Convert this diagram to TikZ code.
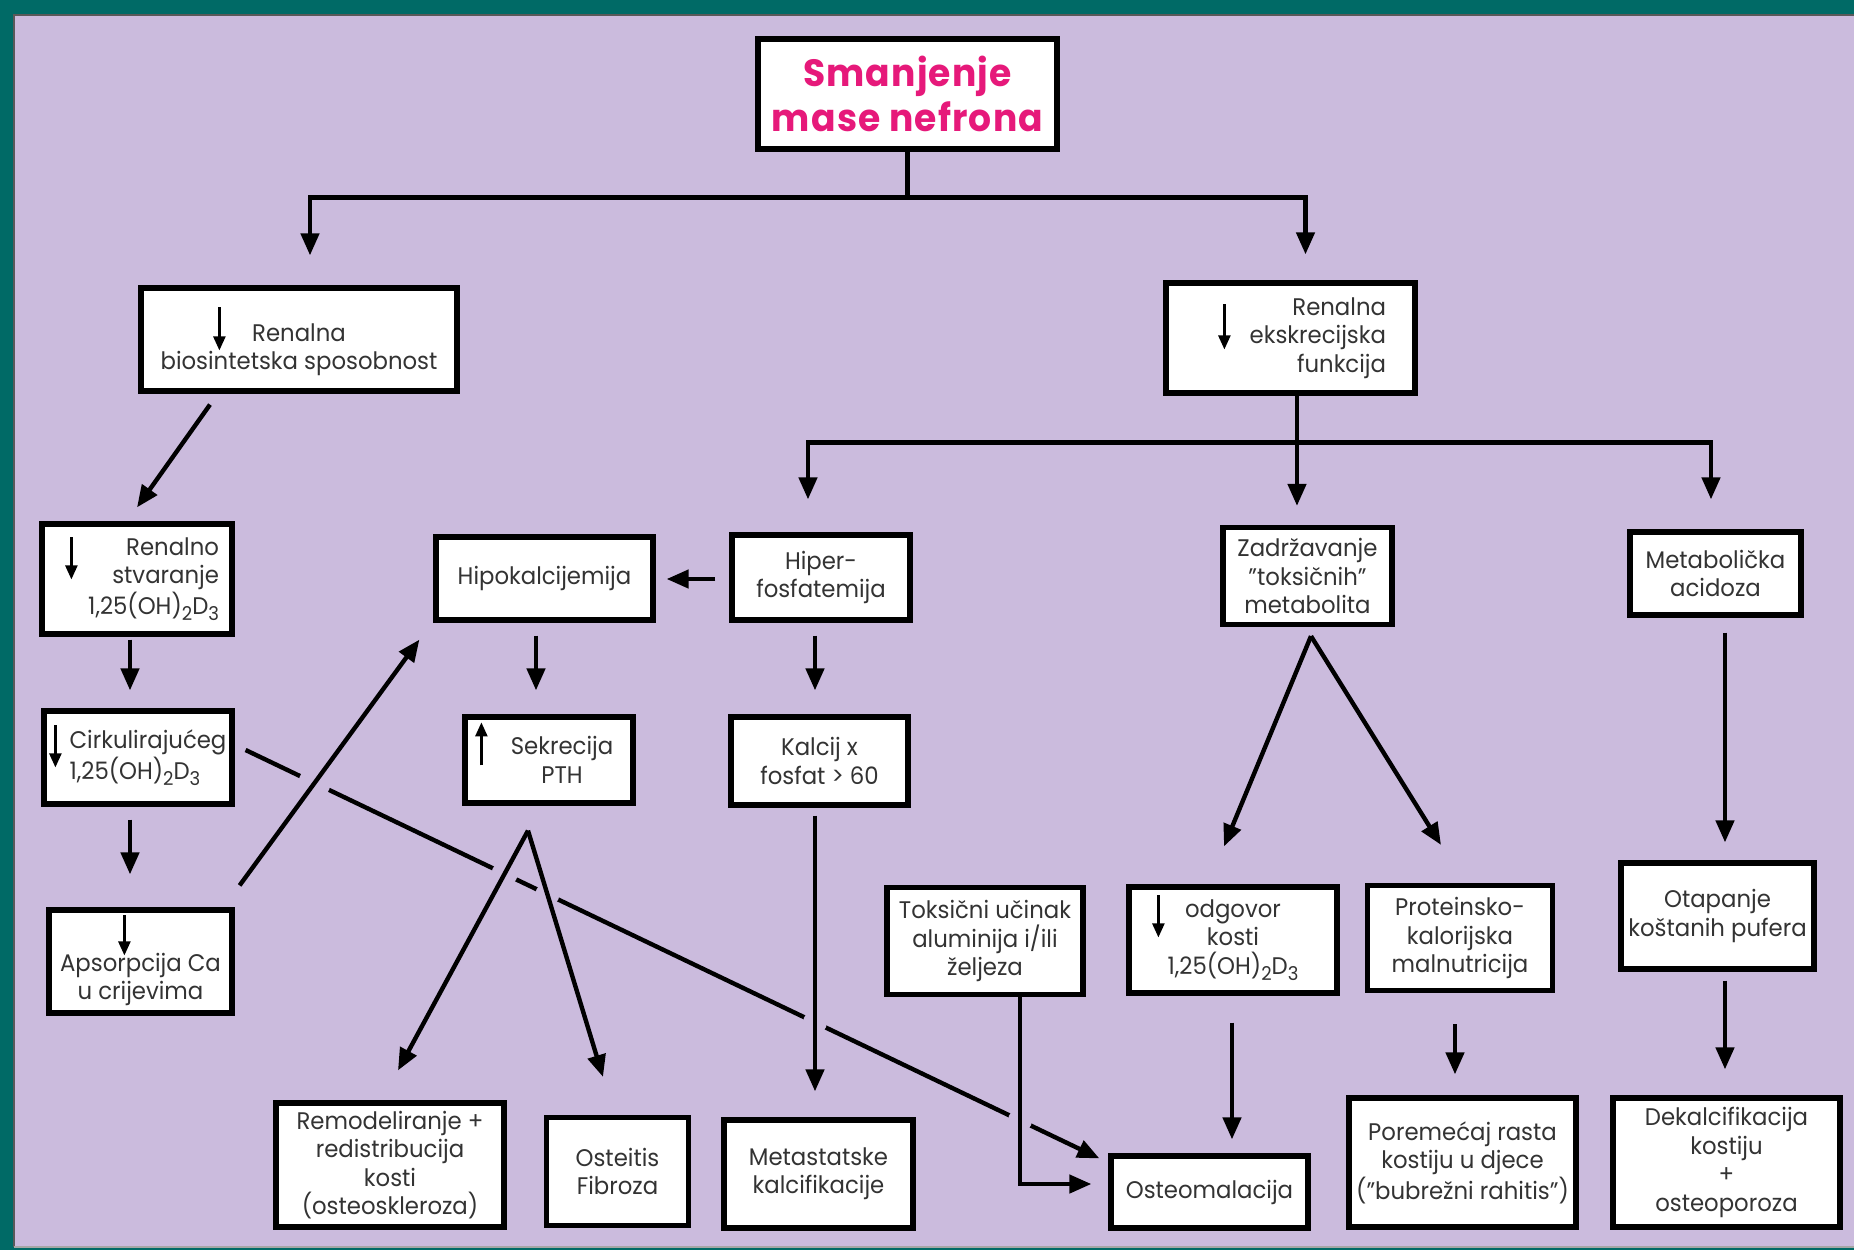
\documentclass[tikz,border=0pt]{standalone}
\usepackage{fontspec}
\setmainfont{Poppins}[FakeStretch=0.95]
\usetikzlibrary{arrows.meta,intersections,calc}
\definecolor{lav}{HTML}{CBBBDD}
\definecolor{tealbg}{HTML}{006A66}
\definecolor{pinktxt}{HTML}{E6197A}
\definecolor{txt}{HTML}{333333}
\newcommand\mysub[1]{\raisebox{-0.45ex}{\fontsize{9.5}{10}\selectfont #1}}
\newcommand\tpad[1]{\rule{0pt}{#1}}
\begin{document}
\begin{tikzpicture}[x=0.5pt,y=-0.5pt,
  box/.style={draw=black, fill=white, line width=2.6pt, inner sep=0pt, align=center, text=txt, font=\fontsize{12}{14.2}\selectfont},
  sz/.style 2 args={minimum width=#1*0.5pt, minimum height=#2*0.5pt},
  conn/.style={line width=2.2pt, draw=black},
  arr/.style={conn, -{Triangle[length=11pt,width=9pt]}},
  small/.style={line width=1.2pt, draw=black, -{Triangle[length=7pt,width=6pt]}}
]
\useasboundingbox (0,0) rectangle (1854,1250);
\fill[tealbg] (0,0) rectangle (1854,1250);
\fill[lav] (14,15) rectangle (1854,1247);
\draw[black!65, line width=1.4pt] (1854,15) -- (14,15) -- (14,1247);
\draw[black!35, line width=1.2pt] (14,1247) -- (1854,1247);

% nodes
\node[box, sz={299}{110}, text=pinktxt, font=\fontsize{19}{22.5}\selectfont\bfseries\addfontfeature{LetterSpace=3}] (top) at (907.5,94) {Smanjenje\\mase nefrona};
\node[box, sz={316}{103}] (bio) at (299,339.5) {\tpad{19pt}Renalna\\biosintetska sposobnost};
\node[box, sz={249}{110}, text width=95.5pt, align=right] (exk) at (1290.5,338) {Renalna\\ekskrecijska\\funkcija};
\node[box, sz={190}{110}, text width=82pt, align=right] (ren) at (137,579) {Renalno\\stvaranje\\1,25(OH)\mysub{2}D\mysub{3}};
\node[box, sz={188}{93}, align=left] (cirk) at (138,757.5) {\hspace*{10pt}Cirkulirajućeg\\\hspace*{10pt}1,25(OH)\mysub{2}D\mysub{3}};
\node[box, sz={183}{103}] (aps) at (140.5,961.5) {\tpad{27pt}Apsorpcija Ca\\u crijevima};
\node[box, sz={217}{83}] (hipo) at (544.5,578.5) {Hipokalcijemija};
\node[box, sz={178}{85}] (hiper) at (821,577.5) {Hiper-\\fosfatemija};
\node[box, sz={168}{86}] (sek) at (549,760) {\hspace*{13pt}Sekrecija\\\hspace*{13pt}PTH};
\node[box, sz={177}{88}] (kalc) at (819.5,761) {Kalcij x\\fosfat > 60};
\node[box, sz={169}{97}] (zadr) at (1307.5,576) {Zadržavanje\\"toksičnih"\\metabolita};
\node[box, sz={171}{83}] (metab) at (1715.5,573.5) {Metabolička\\acidoza};
\node[box, sz={196}{107}] (toks) at (985,941) {Toksični učinak\\aluminija i/ili\\željeza};
\node[box, sz={208}{106}] (odg) at (1233,940) {odgovor\\kosti\\1,25(OH)\mysub{2}D\mysub{3}};
\node[box, sz={185}{105}] (prot) at (1460,938) {Proteinsko-\\kalorijska\\malnutricija};
\node[box, sz={193}{106}] (otap) at (1717.5,916) {Otapanje\\koštanih pufera};
\node[box, sz={228}{124}] (remod) at (390,1165) {Remodeliranje +\\redistribucija\\kosti\\(osteoskleroza)};
\node[box, sz={142}{108}] (ostf) at (617.5,1171.5) {Osteitis\\Fibroza};
\node[box, sz={189}{108}] (meta) at (818.5,1174) {Metastatske\\kalcifikacije};
\node[box, sz={197}{72}] (osteo) at (1209.5,1192) {Osteomalacija};
\node[box, sz={227}{129}] (por) at (1462.5,1162.5) {Poremećaj rasta\\kostiju u djece\\("bubrežni rahitis")};
\node[box, sz={227}{129}] (dek) at (1726.5,1162.5) {Dekalcifikacija\\kostiju\\+\\osteoporoza};

% small arrows inside boxes
\draw[small] ([shift={(81,22)}]bio.north west) -- ([shift={(81,65)}]bio.north west);
\draw[small] ([shift={(32,16)}]ren.north west) -- ([shift={(32,58)}]ren.north west);
\draw[small] ([shift={(14,17)}]cirk.north west) -- ([shift={(14,59)}]cirk.north west);
\draw[small] ([shift={(78,8)}]aps.north west) -- ([shift={(78,48)}]aps.north west);
\draw[small] ([shift={(61,24)}]exk.north west) -- ([shift={(61,69)}]exk.north west);
\draw[small] ([shift={(32,11)}]odg.north west) -- ([shift={(32,53)}]odg.north west);
\draw[small] ([shift={(19,51)}]sek.north west) -- ([shift={(19,8)}]sek.north west);

% top tree
\draw[conn] (top.south) -- ++(0,46) coordinate (tj);
\draw[arr] (tj) -| ([shift={(11,-30)}]bio.north);
\draw[arr] (tj) -| ([shift={(15,-26)}]exk.north);
\draw[conn] ([xshift=3.25pt]exk.south) -- ++(0,47) coordinate (ej);
\draw[arr] (ej) -| ([shift={(-13,-33)}]hiper.north);
\draw[arr] (ej) -| ([shift={(-4.5,-30)}]metab.north);
\draw[arr] (ej) -- ([shift={(-10.5,-19)}]zadr.north);

% left column
\draw[arr] ([shift={(-89,11)}]bio.south) -- ([shift={(0,-14)}]ren.north);
\draw[arr] ([shift={(-7,3)}]ren.south) -- ([shift={(-8,-18)}]cirk.north);
\draw[arr] ([shift={(-8,13)}]cirk.south) -- ([shift={(-10.5,-33)}]aps.north);

% long diagonal
\draw[arr, name path=diag] ([shift={(11,-7.5)}]cirk.east) -- ([shift={(-9,5)}]osteo.north west);

% crossing paths
\path[name path=pA] ([shift={(5,-22)}]aps.north east) -- ([shift={(-14,17)}]hipo.south west);
\path[name path=pL] ([shift={(-21,25)}]sek.south) -- ([shift={(8,-30)}]remod.north);
\path[name path=pR] ([shift={(-21,25)}]sek.south) -- ([shift={(-14.5,-38)}]ostf.north);
\path[name path=pM] ([shift={(-4.5,8)}]kalc.south) -- ([shift={(-3.5,-26)}]meta.north);
\path[name path=pT] ([xshift=17.5pt]toks.south) |- ([shift={(-17,-8)}]osteo.west);
\fill[lav, name intersections={of=diag and pA}] (intersection-1) circle (8pt);
\fill[lav, name intersections={of=diag and pL}] (intersection-1) circle (6.5pt);
\fill[lav, name intersections={of=diag and pR}] (intersection-1) circle (6pt);
\fill[lav, name intersections={of=diag and pM}] (intersection-1) circle (6pt);
\fill[lav, name intersections={of=diag and pT}] (intersection-1) circle (6pt);

\draw[arr] ([shift={(5,-22)}]aps.north east) -- ([shift={(-14,17)}]hipo.south west);
\draw[arr] ([shift={(-21,25)}]sek.south) -- ([shift={(8,-30)}]remod.north);
\draw[arr] ([shift={(-21,25)}]sek.south) -- ([shift={(-14.5,-38)}]ostf.north);
\draw[arr] ([shift={(-4.5,8)}]kalc.south) -- ([shift={(-3.5,-26)}]meta.north);
\draw[arr] ([xshift=17.5pt]toks.south) |- ([shift={(-17,-8)}]osteo.west);

% middle
\draw[arr] ([shift={(-14,1.5)}]hiper.west) -- ([shift={(11,0.5)}]hipo.east);
\draw[arr] ([shift={(-8.5,13)}]hipo.south) -- ([shift={(-13,-24)}]sek.north);
\draw[arr] ([shift={(-6,13)}]hiper.south) -- ([shift={(-4.5,-24)}]kalc.north);

% right part
\draw[arr] ([shift={(3.5,9)}]zadr.south) -- ([shift={(-9,-38)}]odg.north);
\draw[arr] ([shift={(3.5,9)}]zadr.south) -- ([shift={(-19,-38)}]prot.north);
\draw[arr] ([shift={(9.5,15)}]metab.south) -- ([shift={(7.5,-18)}]otap.north);
\draw[arr] ([shift={(-1,27)}]odg.south) -- ([shift={(22.5,-14)}]osteo.north);
\draw[arr] ([shift={(-5,31)}]prot.south) -- ([shift={(-7.5,-21)}]por.north);
\draw[arr] ([shift={(7.5,9)}]otap.south) -- ([shift={(-1.5,-26)}]dek.north);
\end{tikzpicture}
\end{document}
